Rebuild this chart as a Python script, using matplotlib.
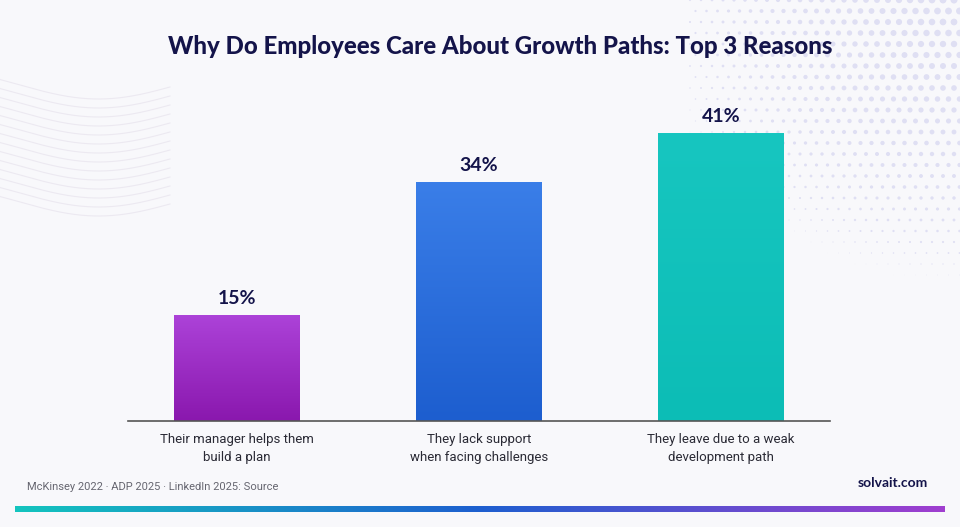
import matplotlib.pyplot as plt
import numpy as np
from matplotlib.colors import LinearSegmentedColormap

# data
reasons = ["Their manager helps them\nbuild a plan",
           "They lack support\nwhen facing challenges",
           "They leave due to a weak\ndevelopment path"]
shares = [15, 34, 41]
bar_top = ["#AC42D8", "#3A7EE8", "#17C6C0"]
bar_bottom = ["#8A18AE", "#1D5ECF", "#0CBDB6"]

title = "Why Do Employees Care About Growth Paths: Top 3 Reasons"
source = "McKinsey 2022 \u00b7 ADP 2025 \u00b7 LinkedIn 2025: Source"
brand = "solvait.com"

navy = "#14144A"
bg = "#F8F8FB"

fig = plt.figure(figsize=(9.6, 5.27), dpi=100)
fig.patch.set_facecolor(bg)

# background decoration (halftone top right, faint waves left)
deco = fig.add_axes([0, 0, 1, 1], zorder=-1)
deco.set_xlim(0, 960)
deco.set_ylim(527, 0)
deco.axis("off")
gx, gy = np.meshgrid(np.arange(690, 968, 11), np.arange(0, 280, 11))
gx = gx + (np.arange(gy.shape[0])[:, None] % 2) * 5.5
d = np.hypot(gx - 960, gy * 1.1) / 310.0
sz = np.clip(1 - d, 0, 1) ** 1.2 * 26
deco.scatter(gx.ravel(), gy.ravel(), s=sz.ravel(), color="#DFDFF3", lw=0)
wx = np.linspace(0, 170, 200)
for k in range(14):
    wy = 85 + k * 9 + 14 * np.sin((wx - 20) / 50.0)
    deco.plot(wx, wy, color="#ECE9F1", lw=0.8)

# main axes
ax = fig.add_axes([128 / 960, 106 / 527, 702 / 960, 315 / 527])
ax.set_facecolor("none")
x = np.arange(len(shares))
w = 0.52

for i, v in enumerate(shares):
    cmap = LinearSegmentedColormap.from_list("g%d" % i, [bar_bottom[i], bar_top[i]])
    grad = np.linspace(0, 1, 100).reshape(-1, 1)
    ax.imshow(grad, cmap=cmap, origin="lower", aspect="auto",
              extent=(x[i] - w / 2, x[i] + w / 2, 0, v), zorder=2)
    ax.text(x[i], v + 1.3, "%d%%" % v, ha="center", va="bottom",
            fontsize=14, fontweight="bold", color=navy, family="Lato")

ax.set_xlim(-0.45, 2.45)
ax.set_ylim(0, 45)
ax.set_xticks(x)
ax.set_xticklabels(reasons, fontsize=9.5, color="#2A2A35", family="Roboto",
                   linespacing=1.45)
ax.tick_params(axis="x", length=0, pad=9)
ax.set_yticks([])
for s in ["top", "right", "left"]:
    ax.spines[s].set_visible(False)
ax.spines["bottom"].set_color("#555555")
ax.spines["bottom"].set_linewidth(1.2)

fig.text(500 / 960, 1 - 47 / 527, title, ha="center", va="center",
         fontsize=17.3, fontweight="black", color=navy, family="Lato")
fig.text(27 / 960, 1 - 487 / 527, source, ha="left", va="center",
         fontsize=8, color="#666670", family="Roboto")
fig.text(928 / 960, 1 - 483 / 527, brand, ha="right", va="center",
         fontsize=10, fontweight="bold", color=navy, family="Lato")

# bottom gradient strip
strip = fig.add_axes([15 / 960, 1 - 512 / 527, 930 / 960, 6 / 527])
scmap = LinearSegmentedColormap.from_list("strip", ["#14C4BE", "#1E5FCF", "#A03ECF"])
strip.imshow(np.linspace(0, 1, 256).reshape(1, -1), cmap=scmap, aspect="auto")
strip.axis("off")

fig.savefig("out.png", dpi=100, facecolor=bg)
